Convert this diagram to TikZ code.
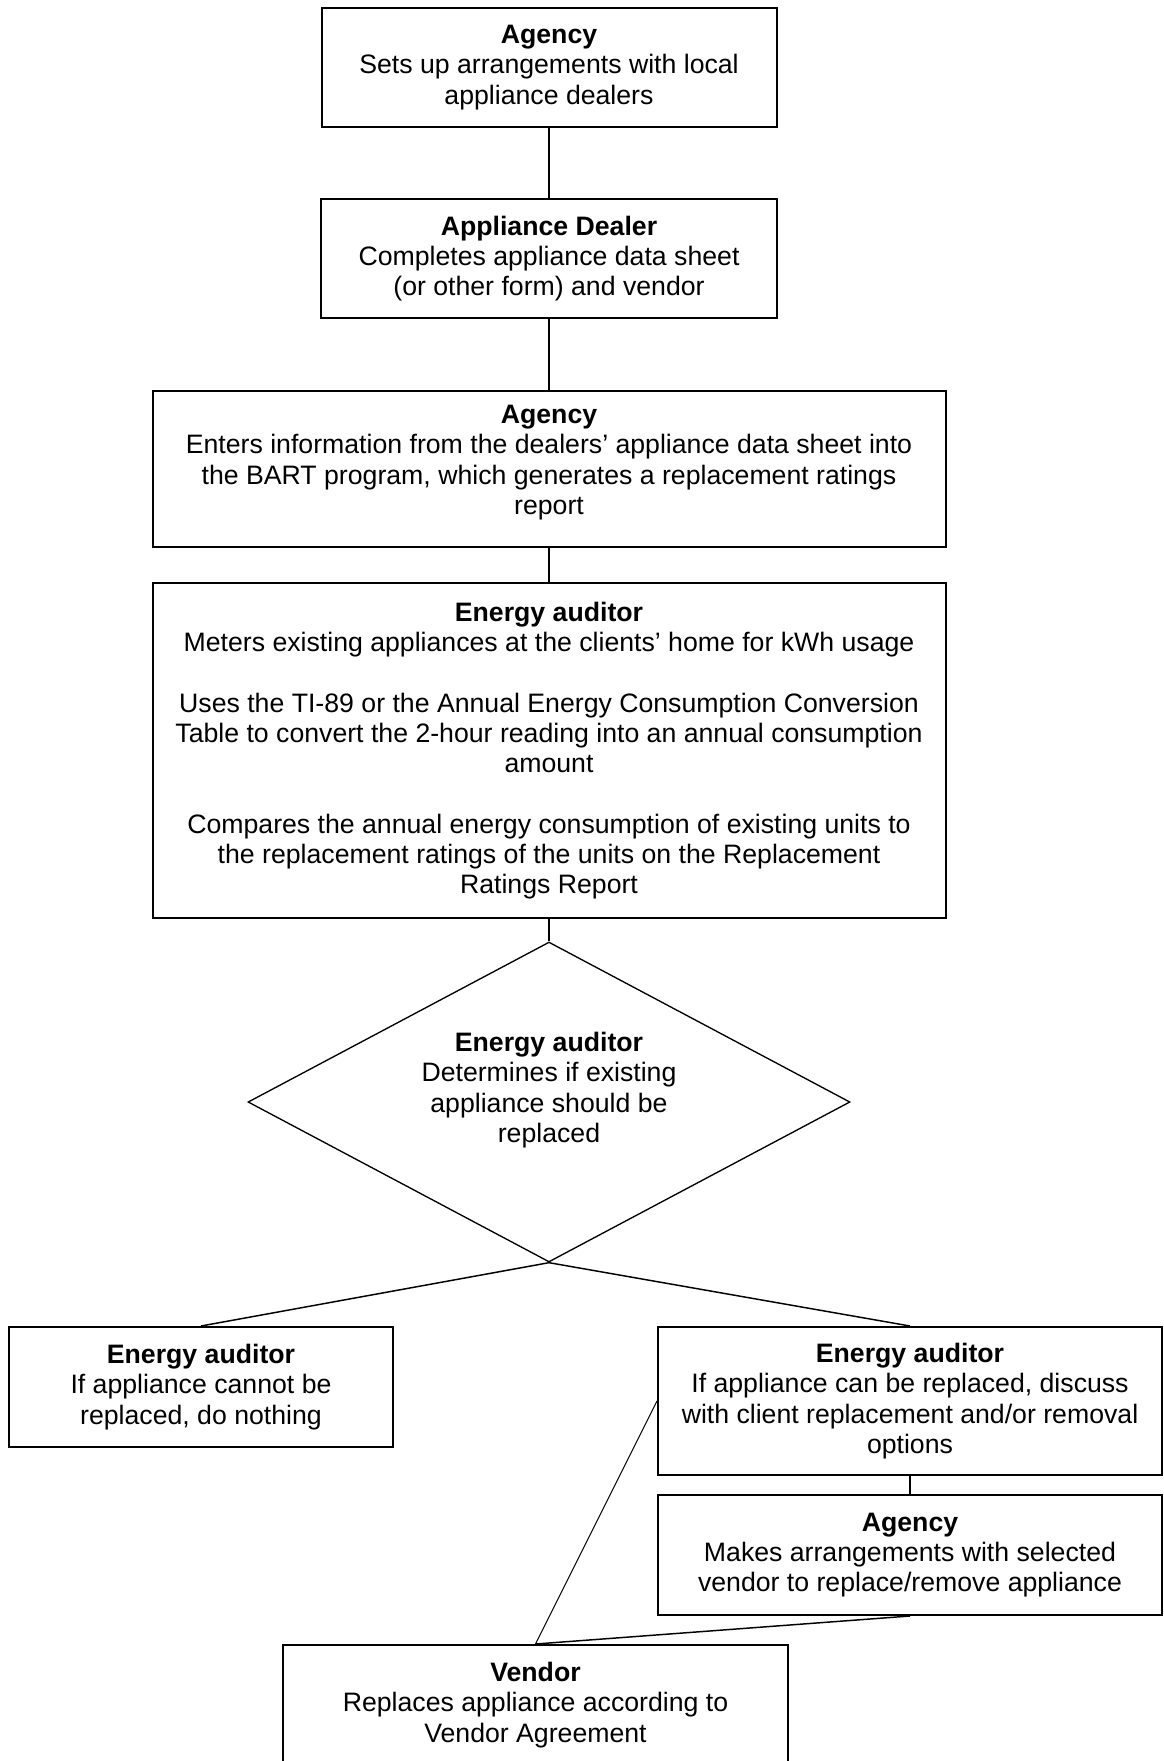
\documentclass[tikz,border=0pt]{standalone}
\usepackage{fontspec}
\setmainfont{Liberation Sans}
\usetikzlibrary{shapes.geometric}
\tikzset{
  box/.style={draw, line width=1.5pt, inner sep=0pt, align=center,
    font=\fontsize{20}{22.7}\selectfont},
  txt/.style={inner sep=0pt, align=center, font=\fontsize{20}{22.7}\selectfont},
  conn/.style={line width=1.1pt},
  thinconn/.style={line width=0.8pt},
  dia/.style={draw, shape=diamond, line width=1pt, inner sep=0pt},
}
\begin{document}
\begin{tikzpicture}[x=0.75pt,y=-0.75pt]
\useasboundingbox (0,0) rectangle (1164,1761);
\node[box, minimum width=455*0.75pt, minimum height=119*0.75pt] (b1) at (549,67.5)
  {\textbf{Agency}\\Sets up arrangements with local\\appliance dealers};
\node[box, minimum width=456*0.75pt, minimum height=119*0.75pt] (b2) at (549,258.5)
  {\textbf{Appliance Dealer}\\Completes appliance data sheet\\(or other form) and vendor};
\node[box, minimum width=793*0.75pt, minimum height=156*0.75pt] (b3) at (549,469)
  {};
\node[txt, anchor=north] (t3) at (549,405)
  {\textbf{Agency}\\Enters information from the dealers’ appliance data sheet into\\the BART program, which generates a replacement ratings\\report};
\node[box, minimum width=793*0.75pt, minimum height=335*0.75pt] (b4) at (549,750.5)
  {\textbf{Energy auditor}\\Meters existing appliances at the clients’ home for kWh usage\\[22.7pt]
   Uses the TI-89 or the Annual Energy Consumption Conversion\\Table to convert the 2-hour reading into an annual consumption\\amount\\[22.7pt]
   Compares the annual energy consumption of existing units to\\the replacement ratings of the units on the Replacement\\Ratings Report};
\node[dia, minimum width=602*0.75pt, minimum height=320*0.75pt] (d) at (549,1102) {};
\node[txt] (dt) at (549,1090)
  {\textbf{Energy auditor}\\Determines if existing\\appliance should be\\replaced};
\node[box, minimum width=384*0.75pt, minimum height=120*0.75pt] (lb) at (201,1387)
  {\textbf{Energy auditor}\\If appliance cannot be\\replaced, do nothing};
\node[box, minimum width=504*0.75pt, minimum height=148*0.75pt] (rb) at (910,1401)
  {\textbf{Energy auditor}\\If appliance can be replaced, discuss\\with client replacement and/or removal\\options};
\node[box, minimum width=504*0.75pt, minimum height=120*0.75pt] (ag) at (910,1555)
  {\textbf{Agency}\\Makes arrangements with selected\\vendor to replace/remove appliance};
\node[box, minimum width=505*0.75pt, minimum height=120*0.75pt] (v) at (535.5,1705)
  {\textbf{Vendor}\\Replaces appliance according to\\Vendor Agreement};
\draw[conn] (b1.south) -- (b2.north);
\draw[conn] (b2.south) -- (b3.north);
\draw[conn] (b3.south) -- (b4.north);
\draw[conn] (b4.south) -- (d.north);
\draw[conn] (d.south) -- (lb.north);
\draw[conn] (d.south) -- (rb.north);
\draw[conn] (rb.south) -- (ag.north);
\draw[conn] (ag.south) -- (v.north);
\draw[thinconn] (rb.west) -- (v.north);
\end{tikzpicture}
\end{document}
